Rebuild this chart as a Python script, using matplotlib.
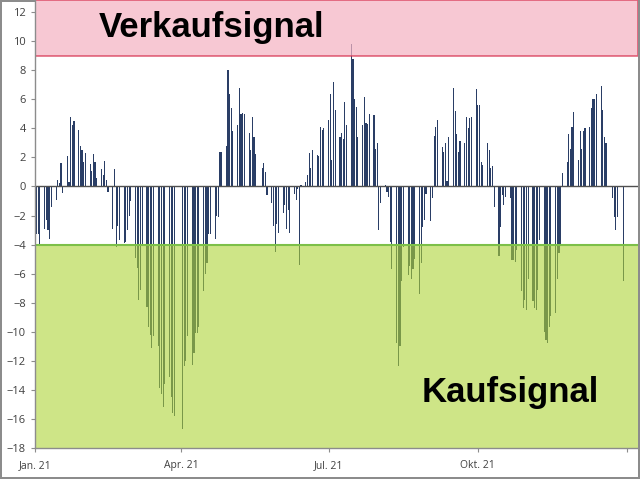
import numpy as np
import pandas as pd
import matplotlib

matplotlib.use('Agg')
import matplotlib.pyplot as plt
import matplotlib.dates as mdates
from datetime import datetime

# --- data: indicator value per trading day, one list per week (Mon..Fri), None = no trading ---
week_start = '2021-01-04'
weeks = [
    [None, None, -3.3, -3.3, -4.1],
    [-2.9, -2.3, -3.0, -3.6, -1.4],
    [-0.9, 0.46, 0.23, 1.6, -0.46],
    [2.1, 0.34, 4.8, 4.25, 4.5],
    [3.9, 2.8, 2.5, 1.7, 2.3],
    [1.56, 1.1, 2.25, 1.7, 0.57],
    [1.2, 0.8, 1.77, 0.46, -0.4],
    [-2.9, 1.2, -4.2, -2.7, -3.7],
    [-3.9, -3.8, -3.0, -2.0, -1.0],
    [-4.9, -5.6, -7.8, -7.1, -4.1],
    [-8.3, -9.7, -10.2, -11.1, -10.3],
    [-11.0, -13.9, -14.3, -15.2, -13.6],
    [-13.1, -14.5, -15.6, -15.8, None],
    [None, -16.7, -12.4, -12.0, -10.3],
    [-12.3, -11.5, -10.1, -10.1, -9.7],
    [-7.2, -6.0, -5.3, -3.3, -3.3],
    [-3.6, -2.0, -2.1, 2.4, 2.4],
    [2.8, 8.0, 6.4, 5.4, 3.8],
    [4.25, 6.8, 5.0, 5.05, 5.0],
    [3.7, 2.5, 4.8, 3.4, 2.25],
    [None, 1.26, 1.6, 1.0, -0.6],
    [-1.15, -2.75, -4.5, -2.6, -3.2],
    [-1.8, -1.3, -2.9, -1.6, -3.2],
    [-0.5, -0.9, -0.2, -5.4, 0.1],
    [0.3, 0.8, 2.3, 1.3, 2.5],
    [2.2, 2.1, 4.1, 3.9, 4.0],
    [4.6, 6.4, 1.8, 7.2, 5.3],
    [3.4, 3.7, 3.3, 5.8, 4.25],
    [9.8, 8.8, 6.0, 5.5, 3.4],
    [4.25, 6.2, 4.4, 4.3, 5.0],
    [4.9, 2.6, 3.0, -3.0, -1.15],
    [0.1, -0.4, -0.7, -3.8, -5.7],
    [-10.8, -12.4, -11.0, -6.5, -4.2],
    [-6.1, -5.5, -6.4, -5.7, -5.0],
    [-7.4, -5.3, -2.8, -2.3, -0.5],
    [-2.4, -0.8, 3.45, 4.1, 4.6],
    [2.7, 2.4, 3.0, 0.35, 3.4],
    [6.8, 5.2, 3.6, 2.4, 3.1],
    [3.0, 4.8, 4.0, 4.7, 4.8],
    [6.7, 5.6, 5.6, 1.7, 1.5],
    [3.0, 2.5, 1.3, 1.4, -1.4],
    [-4.8, -2.8, -0.6, -1.3, -0.7],
    [-0.8, -5.1, -5.1, -5.2, -4.4],
    [-7.2, -8.4, -7.8, -8.5, -6.4],
    [-7.9, -8.4, -8.5, -7.1, -3.7],
    [-10.0, -10.6, -10.8, -9.7, -8.9],
    [-8.7, -6.4, -4.6, -4.0, 0.9],
    [1.7, 3.6, 2.6, 4.1, 5.1],
    [1.8, 3.8, 2.6, 3.8, 4.0],
    [4.1, 5.4, 6.0, 6.0, 6.4],
    [6.9, 5.3, 3.4, 3.0, None],
    [-0.8, -2.1, -3.0, -2.1, None],
    [-6.5],
]

sell_level = 9
buy_level = -4
tick_dates = ['2021-01-05', '2021-04-05', '2021-07-05', '2021-10-05', '2022-01-05']
tick_labels = ['Jan. 21', 'Apr. 21', 'Jul. 21', 'Okt. 21', '']

# flatten weeks into a daily series
flat = [v for w in weeks for v in w]
dates = pd.bdate_range(week_start, periods=len(flat))
s = pd.Series(flat, index=dates, dtype=float).dropna()

fig = plt.figure(figsize=(6.4, 4.79), dpi=100)
fig.patch.set_edgecolor('#8c8c8c')
fig.patch.set_linewidth(1.5)
ax = fig.add_axes([35 / 640, 31.3 / 479, 603 / 640, 447.7 / 479])

x_min = mdates.date2num(datetime(2021, 1, 5))
x_max = mdates.date2num(datetime(2022, 1, 11, 17))
y_top = 12.85

ax.bar(mdates.date2num(s.index), s.values, width=0.7, color='#2a3e66', zorder=2, linewidth=0)

# signal zones, drawn on top of the bars with some transparency
ax.axhspan(sell_level, y_top, facecolor='#f4b3c2', alpha=0.72, edgecolor='#d7304f', linewidth=1.2, zorder=3)
ax.axhspan(-18, buy_level, facecolor='#aed437', alpha=0.6, edgecolor='none', zorder=3)
ax.axhline(buy_level, color='#7dc049', linewidth=1.5, zorder=4)
ax.axhline(0, color='#505050', linewidth=1.0, zorder=4)

ax.text(0.2935, 0.9375, 'Verkaufsignal', transform=ax.transAxes, ha='center', va='center',
        fontsize=25, fontweight='bold', family='Liberation Sans', color='black', zorder=5)
ax.text(0.789, 0.124, 'Kaufsignal', transform=ax.transAxes, ha='center', va='center',
        fontsize=25, fontweight='bold', family='Liberation Sans', color='black', zorder=5)

ax.set_xlim(x_min, x_max)
ax.set_ylim(-18, y_top)
ax.set_yticks(np.arange(-18, 13, 2))
ax.set_xticks(mdates.date2num(pd.to_datetime(tick_dates)))
ax.set_xticklabels(tick_labels)

for side in ['top', 'right']:
    ax.spines[side].set_visible(False)
for side in ['left', 'bottom']:
    ax.spines[side].set_color('#8c8c8c')
    ax.spines[side].set_linewidth(1.0)
    ax.spines[side].set_zorder(6)

ax.tick_params(axis='both', direction='out', length=3, width=0.8, color='#8c8c8c',
               labelsize=8, labelcolor='#404040')
ax.tick_params(axis='x', pad=6, labelsize=7.5)
for lab in ax.get_xticklabels() + ax.get_yticklabels():
    lab.set_family('Open Sans')

plt.savefig('out.png', dpi=100)
